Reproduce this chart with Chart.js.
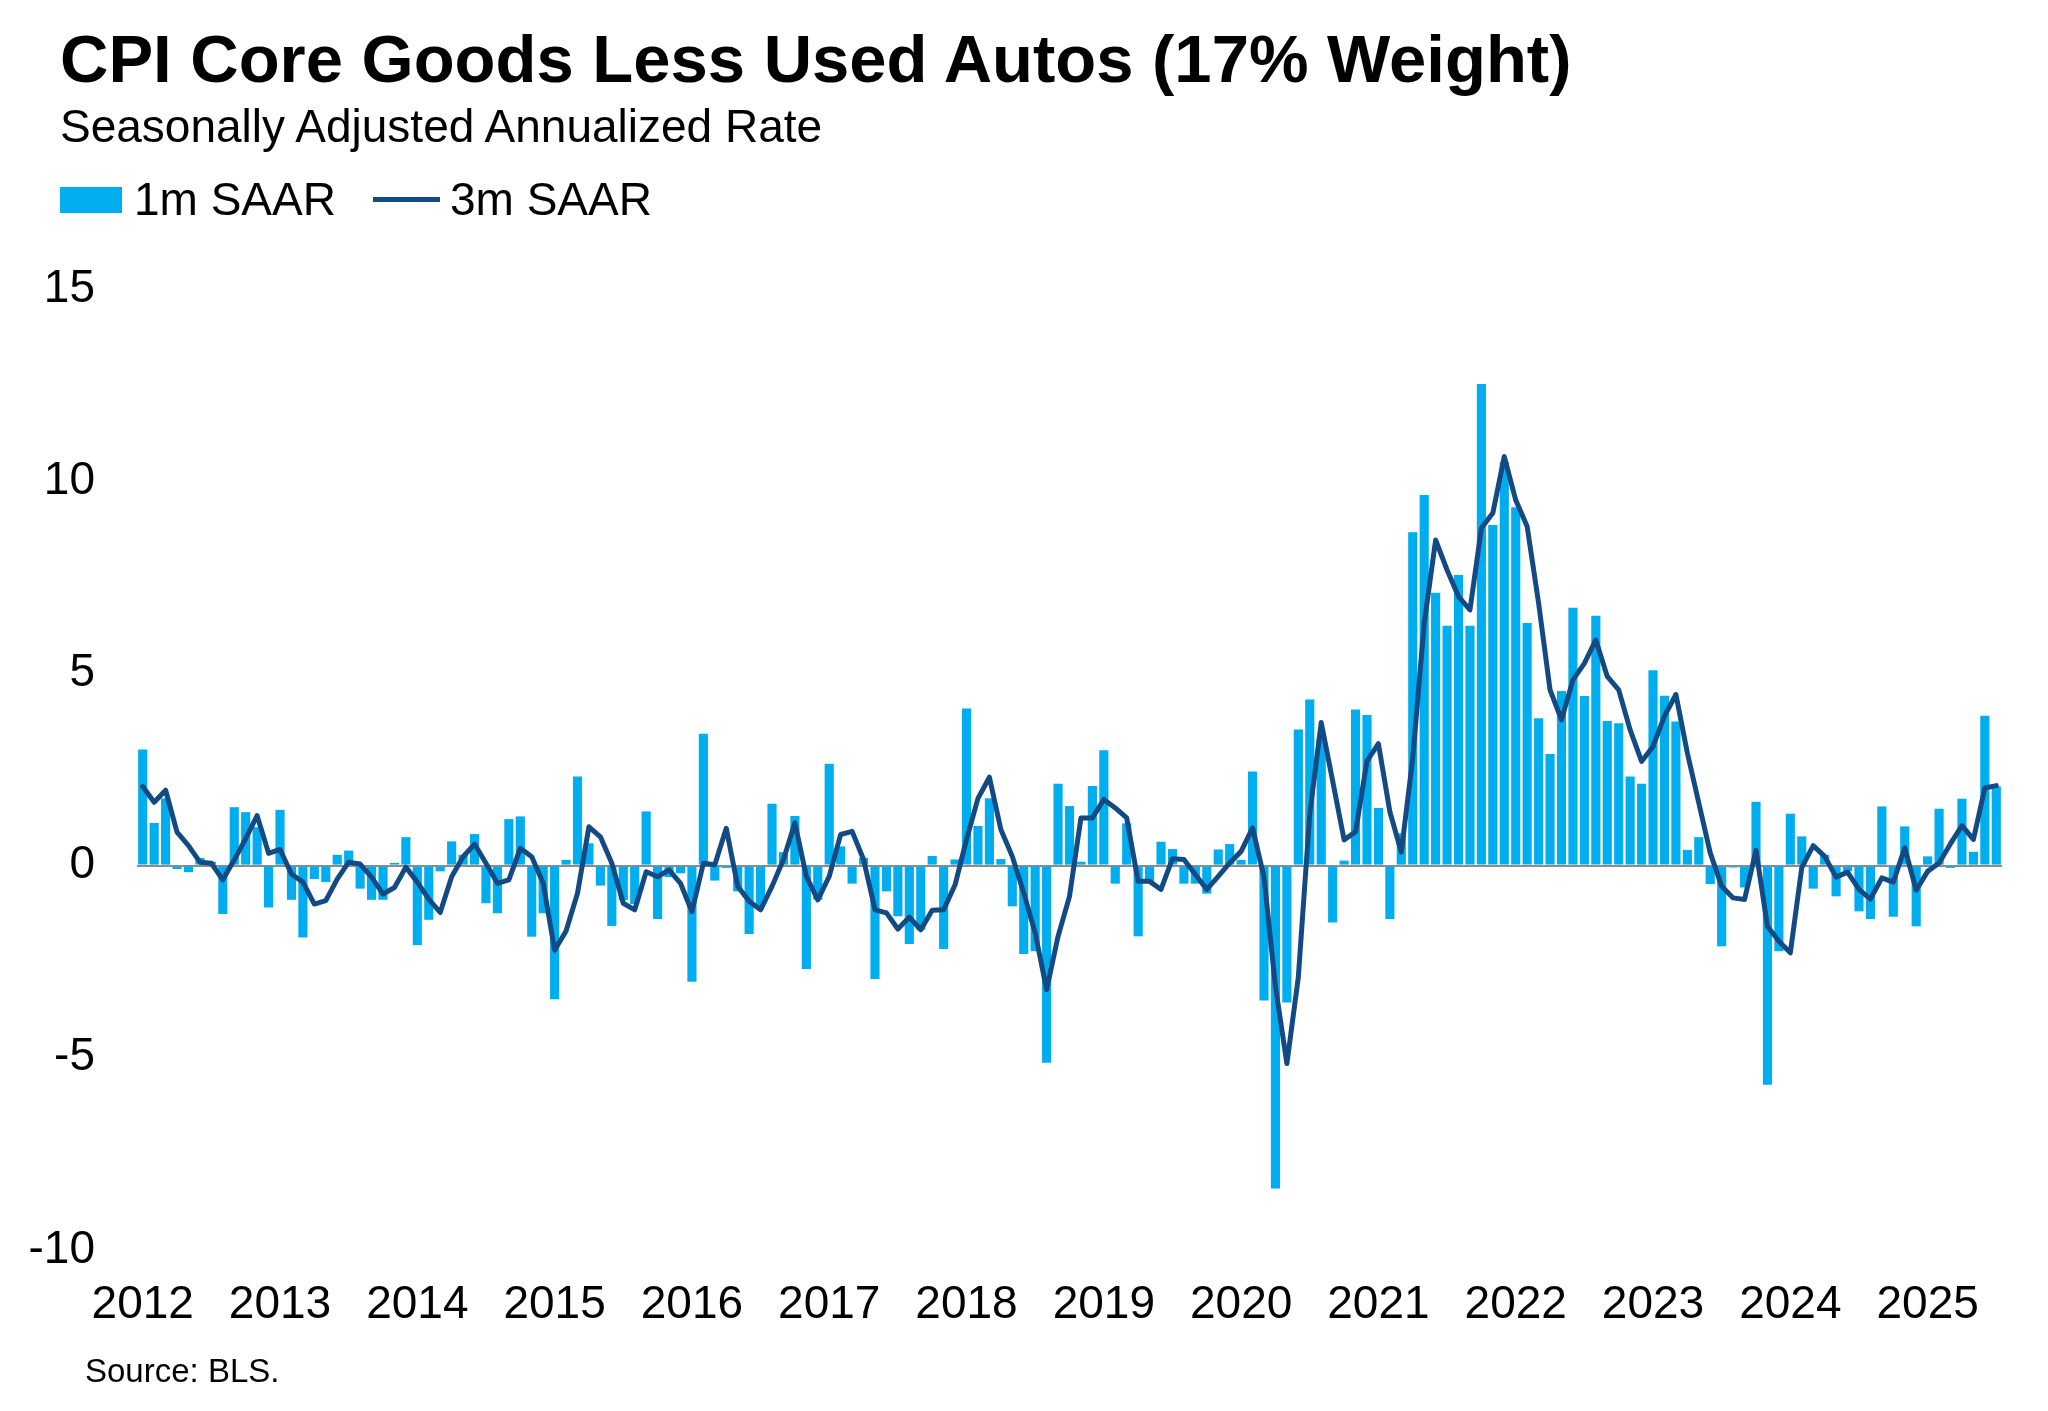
<!DOCTYPE html>
<html>
<head>
<meta charset="utf-8">
<script src="https://cdn.jsdelivr.net/npm/chart.js@4/dist/chart.umd.min.js"></script>
<style>
  html, body { margin: 0; padding: 0; background: #ffffff; }
  #wrap { position: relative; width: 2048px; height: 1411px; overflow: hidden; font-family: "Liberation Sans", Arial, sans-serif; color: #000; }
  #c { position: absolute; left: 0; top: 0; }
  .txt { position: absolute; line-height: 1; white-space: nowrap; }
  #title { left: 60px; top: 25px; font-size: 67px; font-weight: bold; }
  #subtitle { left: 60px; top: 103px; font-size: 46px; }
  #lg1box { position: absolute; left: 60px; top: 187px; width: 62px; height: 26px; background: #00AEEF; }
  #lg1 { left: 134px; top: 176px; font-size: 46px; }
  #lg2line { position: absolute; left: 373px; top: 197px; width: 67px; height: 5px; background: #134A83; }
  #lg2 { left: 450px; top: 176px; font-size: 46px; }
  #source { left: 85px; top: 1354px; font-size: 33px; }
</style>
</head>
<body>
<div id="wrap">
  <canvas id="c" width="2048" height="1411"></canvas>
  <div class="txt" id="title">CPI Core Goods Less Used Autos (17% Weight)</div>
  <div class="txt" id="subtitle">Seasonally Adjusted Annualized Rate</div>
  <div id="lg1box"></div><div class="txt" id="lg1">1m SAAR</div>
  <div id="lg2line"></div><div class="txt" id="lg2">3m SAAR</div>
  <div class="txt" id="source">Source: BLS.</div>
</div>
<script>
// Tick labels (years shown on the x axis, one per January)
const yearLabels = ['2012','2013','2014','2015','2016','2017','2018','2019','2020','2021','2022','2023','2024','2025'];
const monthsInLastYear = 7; // data runs through July 2025

// 1m SAAR (%), monthly Jan 2012 - Jul 2025
const saar1m = [
  3.02, 1.11, 1.75, -0.09, -0.17, 0.20, 0.10, -1.26, 1.52, 1.39, 1.00, -1.09,   // 2012
  1.45, -0.89, -1.87, -0.35, -0.43, 0.28, 0.39, -0.60, -0.89, -0.89, 0.07, 0.74, // 2013
  -2.07, -1.41, -0.15, 0.63, 0.28, 0.82, -0.98, -1.24, 1.21, 1.28, -1.85, -1.24, // 2014
  -3.48, 0.15, 2.32, 0.58, -0.52, -1.57, -0.90, -1.00, 1.41, -1.39, -0.30, -0.20, // 2015
  -3.02, 3.43, -0.39, -0.06, -0.67, -1.78, -1.06, 1.61, 0.35, 1.29, -2.69, -0.89, // 2016
  2.65, 0.50, -0.47, 0.20, -2.95, -0.67, -1.32, -2.04, -1.67, 0.25, -2.17, 0.16,  // 2017
  4.09, 1.03, 1.75, 0.17, -1.06, -2.30, -2.23, -5.13, 2.13, 1.55, 0.10, 2.07,    // 2018
  3.00, -0.47, 1.10, -1.84, -0.40, 0.62, 0.43, -0.47, -0.47, -0.73, 0.42, 0.56,  // 2019
  0.15, 2.45, -3.51, -8.40, -3.56, 3.54, 4.32, 3.30, -1.48, 0.13, 4.06, 3.92,    // 2020
  1.50, -1.39, 0.84, 8.67, 9.64, 7.10, 6.24, 7.56, 6.24, 12.53, 8.86, 10.50,     // 2021
  9.32, 6.31, 3.83, 2.90, 4.54, 6.71, 4.41, 6.50, 3.76, 3.70, 2.32, 2.13,        // 2022
  5.08, 4.42, 3.75, 0.41, 0.74, -0.48, -2.10, -0.05, -0.57, 1.66, -5.70, -2.23,  // 2023
  1.35, 0.76, -0.60, 0.28, -0.80, -0.15, -1.19, -1.39, 1.54, -1.33, 1.02, -1.58, // 2024
  0.24, 1.48, -0.06, 1.74, 0.36, 3.90, 2.06                                      // 2025
];

// 3m SAAR (%), monthly Jan 2012 - Jul 2025
const saar3m = [
  2.06, 1.65, 1.96, 0.87, 0.52, 0.09, 0.06, -0.37, 0.15, 0.70, 1.30, 0.32,       // 2012
  0.42, -0.22, -0.43, -1.00, -0.91, -0.35, 0.09, 0.04, -0.30, -0.74, -0.57, -0.04, // 2013
  -0.43, -0.87, -1.22, -0.29, 0.23, 0.56, 0.06, -0.46, -0.37, 0.45, 0.23, -0.46, // 2014
  -2.20, -1.70, -0.72, 1.01, 0.75, 0.06, -0.98, -1.15, -0.16, -0.29, -0.11, -0.46, // 2015
  -1.20, 0.06, 0.02, 0.97, -0.54, -0.93, -1.15, -0.54, 0.16, 1.11, -0.28, -0.89, // 2016
  -0.28, 0.81, 0.89, 0.16, -1.15, -1.23, -1.65, -1.34, -1.67, -1.16, -1.15, -0.50, // 2017
  0.68, 1.75, 2.30, 0.94, 0.24, -0.71, -1.75, -3.23, -1.84, -0.80, 1.24, 1.24,   // 2018
  1.72, 1.50, 1.24, -0.41, -0.41, -0.62, 0.18, 0.16, -0.23, -0.62, -0.28, 0.07,  // 2019
  0.37, 0.98, -0.30, -3.15, -5.15, -2.90, 1.35, 3.72, 2.20, 0.67, 0.88, 2.72,    // 2020
  3.17, 1.40, 0.35, 2.80, 6.30, 8.47, 7.69, 7.00, 6.65, 8.78, 9.17, 10.64,       // 2021
  9.51, 8.82, 6.83, 4.57, 3.79, 4.83, 5.26, 5.87, 4.92, 4.57, 3.53, 2.71,        // 2022
  3.10, 3.89, 4.45, 2.93, 1.63, 0.33, -0.54, -0.84, -0.88, 0.40, -1.58, -1.97,   // 2023
  -2.27, -0.05, 0.52, 0.24, -0.30, -0.17, -0.62, -0.87, -0.32, -0.43, 0.46, -0.64, // 2024
  -0.15, 0.07, 0.57, 1.04, 0.68, 2.02, 2.08                                      // 2025
];

const seriesNames = ['1m SAAR', '3m SAAR'];

// Month categories built from the year tick labels
const categories = [];
yearLabels.forEach((y, i) => {
  const n = (i === yearLabels.length - 1) ? monthsInLastYear : 12;
  for (let m = 1; m <= n; m++) categories.push(y + '-' + String(m).padStart(2, '0'));
});

const FONT = '"Liberation Sans", Arial, sans-serif';

new Chart(document.getElementById('c'), {
  data: {
    labels: categories,
    datasets: [
      {
        type: 'line',
        label: seriesNames[1],
        data: saar3m,
        borderColor: '#134A83',
        backgroundColor: '#134A83',
        borderWidth: 5,
        pointRadius: 0,
        tension: 0,
        borderJoinStyle: 'round',
        borderCapStyle: 'round',
        order: 1
      },
      {
        type: 'bar',
        label: seriesNames[0],
        data: saar1m,
        backgroundColor: '#00AEEF',
        borderWidth: 0,
        categoryPercentage: 1.0,
        barPercentage: 0.8,
        order: 2
      }
    ]
  },
  options: {
    responsive: false,
    devicePixelRatio: 1,
    animation: false,
    layout: { padding: { left: 0, right: 46, top: 289, bottom: 0 } },
    plugins: {
      legend: { display: false },
      title: { display: false },
      tooltip: { enabled: false }
    },
    scales: {
      x: {
        type: 'category',
        offset: true,
        grid: { display: false, drawTicks: false },
        border: { display: false },
        ticks: {
          autoSkip: false,
          maxRotation: 0,
          minRotation: 0,
          padding: 28,
          color: '#000',
          font: { family: FONT, size: 46 },
          callback: function (value, index) {
            const lab = categories[index];
            return lab.endsWith('-01') ? lab.slice(0, 4) : null;
          }
        },
        afterFit: function (scale) { scale.height = 161; }
      },
      y: {
        min: -10,
        max: 15,
        grid: {
          drawTicks: false,
          lineWidth: 2,
          color: function (ctx) { return (ctx.tick && ctx.tick.value === 0) ? '#8c8c8c' : 'rgba(0,0,0,0)'; }
        },
        border: { display: false },
        ticks: {
          stepSize: 5,
          padding: 42,
          color: '#000',
          font: { family: FONT, size: 46 }
        },
        afterFit: function (scale) { scale.width = 137; }
      }
    }
  }
});
</script>
</body>
</html>
